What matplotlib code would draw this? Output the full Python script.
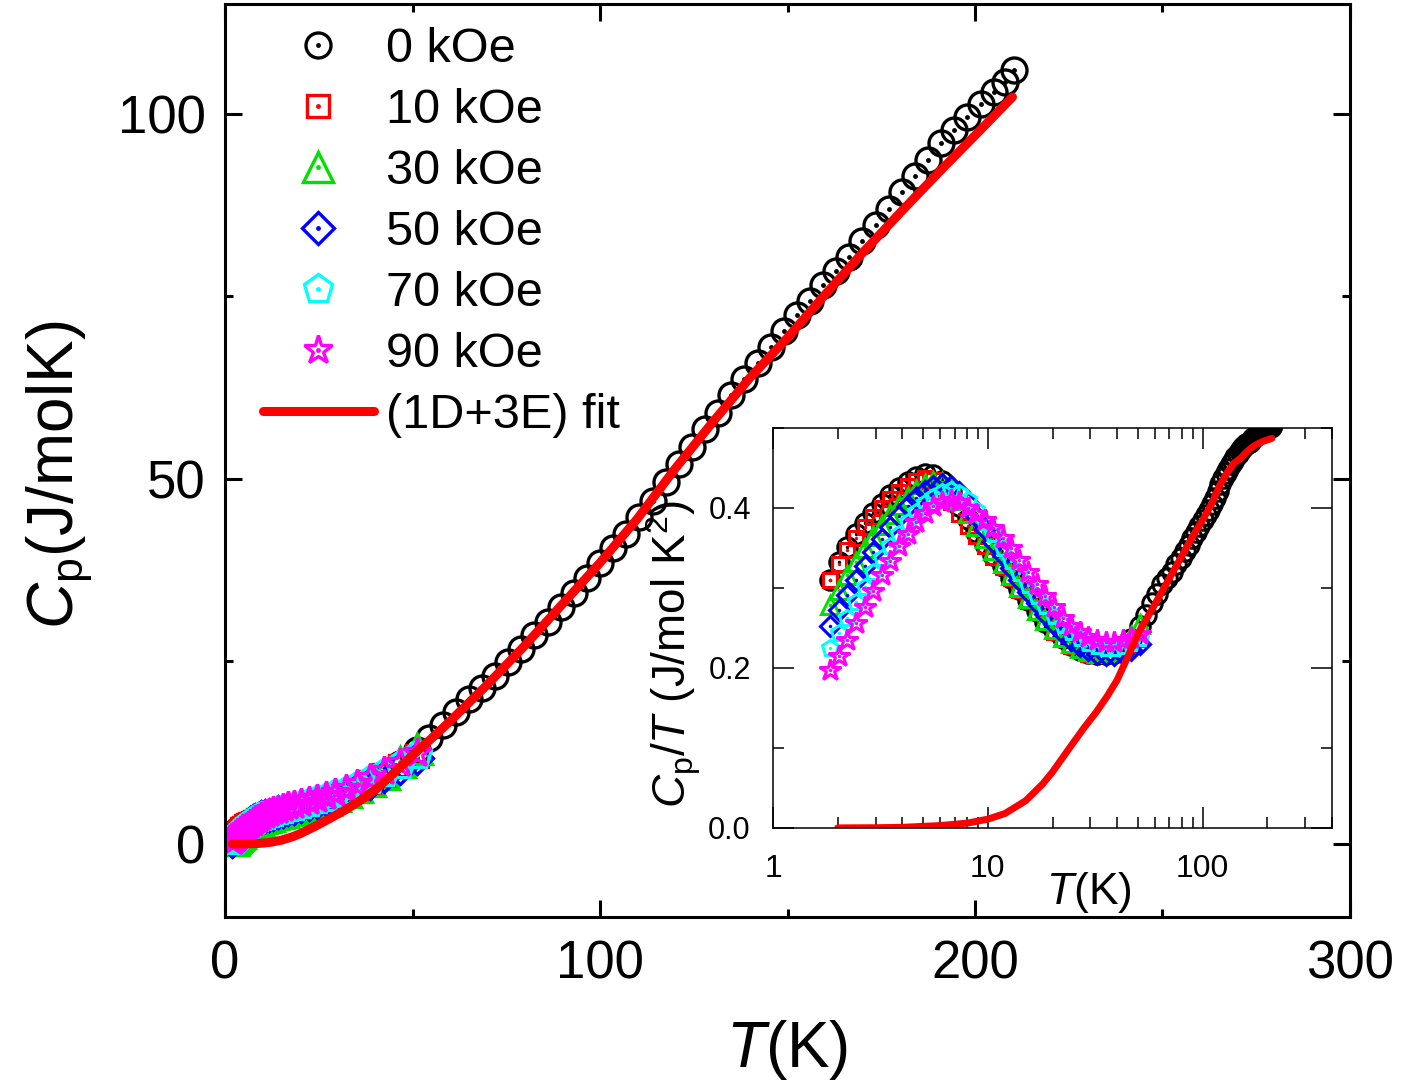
import numpy as np
import matplotlib
matplotlib.use("Agg")
import matplotlib.pyplot as plt
from matplotlib.ticker import MultipleLocator, NullFormatter, LogLocator, FormatStrFormatter

plt.rcParams['font.family'] = ['Liberation Sans', 'DejaVu Sans']
plt.rcParams['mathtext.fontset'] = 'custom'
plt.rcParams['mathtext.rm'] = 'Liberation Sans'
plt.rcParams['mathtext.it'] = 'Liberation Sans:italic'

# field labels / styles
labels = ["0 kOe", "10 kOe", "30 kOe", "50 kOe", "70 kOe", "90 kOe"]
colors = ["#000000", "#ff0000", "#00e000", "#0000ff", "#00ffff", "#ff00ff"]
markers = ["o", "s", "^", "D", "p", "*"]

# low temperature grid shared by all fields (K)
T_low = [1.85, 2.03, 2.22, 2.43, 2.67, 2.93, 3.21, 3.52, 3.86, 4.23, 4.64, 5.09,
         5.58, 6.12, 6.71, 7.36, 8.07, 8.85, 9.70, 10.6, 11.7, 12.8, 14.0, 15.4,
         16.9, 18.5, 20.3, 22.3, 24.4, 26.8, 29.4, 32.2, 35.3, 38.7, 42.5, 46.6, 51.1]

# Cp/T (J/mol K^2)
c0_low = [0.31, 0.333, 0.351, 0.367, 0.381, 0.394, 0.405, 0.416, 0.425, 0.433, 0.439, 0.442,
          0.441, 0.434, 0.42, 0.403, 0.386, 0.37, 0.355, 0.341, 0.327, 0.313, 0.299, 0.285,
          0.271, 0.258, 0.247, 0.237, 0.229, 0.223, 0.219, 0.217, 0.217, 0.219, 0.224, 0.236, 0.252]
c10 = [0.31, 0.33, 0.347, 0.362, 0.376, 0.389, 0.400, 0.411, 0.420, 0.428, 0.434, 0.437,
       0.435, 0.424, 0.408, 0.393, 0.378, 0.365, 0.352, 0.339, 0.326, 0.312, 0.298, 0.284,
       0.27, 0.257, 0.245, 0.236, 0.228, 0.222, 0.218, 0.216, 0.216, 0.218, 0.222, 0.228, 0.236]
c30 = [0.279, 0.298, 0.316, 0.333, 0.35, 0.365, 0.379, 0.392, 0.404, 0.414, 0.423, 0.43,
       0.434, 0.433, 0.425, 0.41, 0.394, 0.378, 0.362, 0.347, 0.331, 0.316, 0.301, 0.287,
       0.273, 0.26, 0.249, 0.239, 0.231, 0.225, 0.221, 0.219, 0.219, 0.221, 0.226, 0.24, 0.255]
c50 = [0.252, 0.272, 0.291, 0.31, 0.328, 0.345, 0.361, 0.376, 0.39, 0.402, 0.413, 0.421,
       0.427, 0.43, 0.428, 0.42, 0.406, 0.39, 0.374, 0.358, 0.341, 0.325, 0.31, 0.295,
       0.281, 0.267, 0.255, 0.244, 0.235, 0.228, 0.222, 0.218, 0.216, 0.216, 0.218, 0.223, 0.23]
c70 = [0.225, 0.244, 0.263, 0.282, 0.301, 0.32, 0.337, 0.353, 0.368, 0.382, 0.395, 0.406,
       0.414, 0.42, 0.422, 0.419, 0.41, 0.397, 0.382, 0.367, 0.35, 0.334, 0.319, 0.304,
       0.29, 0.277, 0.265, 0.254, 0.245, 0.237, 0.231, 0.227, 0.225, 0.225, 0.227, 0.231, 0.237]
c90 = [0.198, 0.215, 0.235, 0.256, 0.276, 0.296, 0.316, 0.334, 0.352, 0.368, 0.382, 0.394,
       0.402, 0.408, 0.41, 0.408, 0.40, 0.393, 0.385, 0.375, 0.362, 0.35, 0.335, 0.32,
       0.305, 0.29, 0.276, 0.263, 0.253, 0.245, 0.239, 0.235, 0.233, 0.233, 0.235, 0.238, 0.243]

# 0 kOe above 50 K, Cp (J/mol K)
T0_high = [54.5, 58, 61.5, 65, 68.5, 72, 75.5, 79, 82.5, 86, 89.5, 93, 96.5, 100, 103.5,
           107, 110.5, 114, 117.5, 121, 124.5, 128, 131.5, 135, 138.5, 142, 145.5, 149,
           152.5, 156, 159.5, 163, 166.5, 170, 173.5, 177, 180.5, 184, 187.5, 191, 194.5,
           198, 201.5, 205, 208, 210.5]
Cp0_high = [14.5, 16.3, 18.0, 19.8, 21.4, 23.0, 24.9, 26.7, 28.6, 30.4, 32.4, 34.4, 36.4,
            38.5, 40.5, 42.5, 44.8, 47.0, 49.5, 52.0, 54.4, 56.8, 59.0, 61.4, 63.6, 65.8,
            68.0, 70.2, 72.4, 74.4, 76.5, 78.4, 80.4, 82.6, 84.8, 87.0, 89.2, 91.4, 93.7,
            96.0, 97.8, 99.5, 101.3, 102.9, 104.3, 105.9]

# (1D+3E) fit, Cp/T
T_fit = [2, 3, 4, 6, 8, 10, 12, 15, 18, 20, 24, 28, 32, 36, 40, 45, 50, 55, 60, 70, 80,
         90, 100, 110, 120, 130, 140, 150, 160, 170, 180, 190, 200, 210]
c_fit = [0.0001, 0.0003, 0.0008, 0.003, 0.006, 0.011, 0.018, 0.034, 0.055, 0.07, 0.1,
         0.125, 0.145, 0.165, 0.185, 0.215, 0.243, 0.262, 0.28, 0.312, 0.34, 0.365, 0.385,
         0.405, 0.428, 0.444, 0.456, 0.462, 0.47, 0.476, 0.48, 0.483, 0.485, 0.487]

T_low = np.array(T_low)
T0 = np.concatenate([T_low, T0_high])
C0 = np.concatenate([c0_low, np.array(Cp0_high) / np.array(T0_high)])
series = [(T0, C0), (T_low, np.array(c10)), (T_low, np.array(c30)),
          (T_low, np.array(c50)), (T_low, np.array(c70)), (T_low, np.array(c90))]
T_fit = np.array(T_fit)
c_fit = np.array(c_fit)

main_ms = [18, 16, 21, 16, 21, 21]
inset_ms = [14, 10, 13, 10, 12, 16]

fig = plt.figure(figsize=(14.03, 10.82), dpi=100)
ax = fig.add_axes([0.1604, 0.1525, 0.8018, 0.8438])

handles = []
for i, (T, C) in enumerate(series):
    h1, = ax.plot(T, T * C, ls='none', marker=markers[i], ms=main_ms[i], mfc='none',
                  mec=colors[i], mew=2.4)
    h2, = ax.plot(T, T * C, ls='none', marker='o', ms=3.5, mfc=colors[i], mec=colors[i], mew=0)
    handles.append((h1, h2))
hf, = ax.plot(T_fit, T_fit * c_fit, color='#ff0000', lw=6.5, solid_capstyle='round')

ax.set_xlim(0, 300)
ax.set_ylim(-10, 115)
ax.xaxis.set_major_locator(MultipleLocator(100))
ax.xaxis.set_minor_locator(MultipleLocator(50))
ax.yaxis.set_major_locator(MultipleLocator(50))
ax.yaxis.set_minor_locator(MultipleLocator(25))
ax.tick_params(which='both', direction='in', top=True, right=True, width=2.2, labelsize=38)
ax.tick_params(which='major', length=12)
ax.tick_params(which='minor', length=6)
ax.tick_params(axis='x', pad=16)
ax.tick_params(axis='y', pad=14)
for s in ax.spines.values():
    s.set_linewidth(2.2)

ax.set_xlabel(r'$\mathit{T}$(K)', fontsize=46, va='center')
ax.xaxis.set_label_coords(0.5, -0.146)
ax.set_ylabel(r'$\mathit{C}_\mathrm{p}$(J/molK)', fontsize=46, va='center')
ax.yaxis.set_label_coords(-0.147, 0.484)

ax.legend(handles + [hf], labels + ["(1D+3E) fit"], loc='upper left',
          bbox_to_anchor=(0.0333, 0.9748), frameon=False, fontsize=35,
          handlelength=2.3, handletextpad=0.24, labelspacing=0.33,
          borderpad=0, borderaxespad=0)

# inset
ax_in = fig.add_axes([0.551, 0.2348, 0.3984, 0.3697])
for i, (T, C) in enumerate(series):
    ax_in.plot(T, C, ls='none', marker=markers[i], ms=inset_ms[i], mfc='none',
               mec=colors[i], mew=2.2)
    ax_in.plot(T, C, ls='none', marker='o', ms=2.5, mfc=colors[i], mec=colors[i], mew=0)
ax_in.plot(T_fit, c_fit, color='#ff0000', lw=5, solid_capstyle='round')

ax_in.set_xscale('log')
ax_in.set_xlim(1, 400)
ax_in.set_ylim(0, 0.5)
ax_in.set_xticks([1, 10, 100])
ax_in.set_xticklabels(['1', '10', '100'])
ax_in.xaxis.set_minor_locator(LogLocator(base=10, subs=np.arange(2, 10)))
ax_in.xaxis.set_minor_formatter(NullFormatter())
ax_in.yaxis.set_major_locator(MultipleLocator(0.2))
ax_in.yaxis.set_minor_locator(MultipleLocator(0.1))
ax_in.yaxis.set_major_formatter(FormatStrFormatter('%.1f'))
ax_in.tick_params(which='both', direction='in', top=True, right=True, width=1.1,
                  labelsize=22)
ax_in.tick_params(axis='x', labelsize=23, pad=19)
ax_in.tick_params(axis='y', pad=16)
ax_in.tick_params(which='major', length=15)
ax_in.tick_params(which='minor', length=8)
for s in ax_in.spines.values():
    s.set_linewidth(1.1)

ax_in.set_xlabel(r'$\mathit{T}$(K)', fontsize=32)
ax_in.xaxis.set_label_coords(0.565, -0.105)
ax_in.set_ylabel(r'$\mathit{C}_\mathrm{p}/\mathit{T}$ (J/mol K$^2$)', fontsize=33, va='baseline')
ax_in.yaxis.set_label_coords(-0.154, 0.435)

fig.savefig("out.png", dpi=100)
